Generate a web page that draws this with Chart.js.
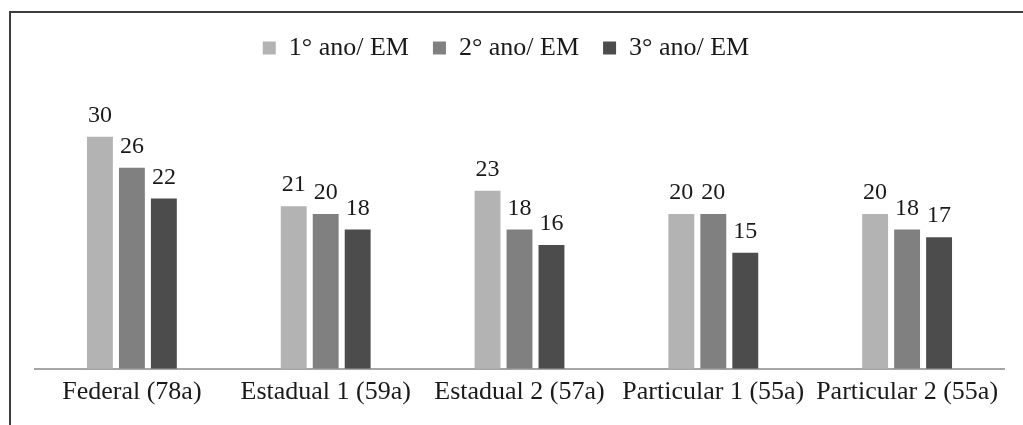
<!DOCTYPE html>
<html>
<head>
<meta charset="utf-8">
<script src="https://cdn.jsdelivr.net/npm/chart.js@4/dist/chart.umd.min.js"></script>
<style>
  html, body { margin: 0; padding: 0; background: #fff; overflow: hidden; }
  #wrap { position: relative; width: 1023px; height: 425px; }
</style>
</head>
<body>
<div id="wrap"><canvas id="c" width="1023" height="425"></canvas></div>
<script>
// Schools and number of students per grade
const categories = ['Federal (78a)', 'Estadual 1 (59a)', 'Estadual 2 (57a)', 'Particular 1 (55a)', 'Particular 2 (55a)'];
const seriesNames = ['1° ano/ EM', '2° ano/ EM', '3° ano/ EM'];
const ano1 = [30, 21, 23, 20, 20];
const ano2 = [26, 20, 18, 20, 18];
const ano3 = [22, 18, 16, 15, 17];
const barColors = ['#b3b3b3', '#808080', '#4c4c4c'];

const serif = "'Liberation Serif', 'Times New Roman', serif";
const textColor = '#1a1a1a';

// Frame lines along the top and left edge
const framePlugin = {
  id: 'frame',
  beforeDraw(chart) {
    const ctx = chart.ctx;
    ctx.save();
    ctx.fillStyle = '#fff';
    ctx.fillRect(0, 0, chart.width, chart.height);
    ctx.strokeStyle = '#3d3d3d';
    ctx.lineWidth = 2;
    ctx.beginPath();
    ctx.moveTo(10, chart.height);
    ctx.lineTo(10, 12);
    ctx.lineTo(chart.width, 12);
    ctx.stroke();
    ctx.restore();
  }
};

// Extra space between the legend and the plot area
const legendGap = {
  id: 'legendGap',
  beforeInit(chart) {
    const origFit = chart.legend.fit;
    chart.legend.fit = function () {
      origFit.call(this);
      this.height += 27;
    };
  }
};

// Value labels above each bar
const valueLabels = {
  id: 'valueLabels',
  afterDatasetsDraw(chart) {
    const ctx = chart.ctx;
    ctx.save();
    ctx.font = '24px ' + serif;
    ctx.fillStyle = textColor;
    ctx.textAlign = 'center';
    ctx.textBaseline = 'alphabetic';
    chart.data.datasets.forEach((ds, i) => {
      const meta = chart.getDatasetMeta(i);
      meta.data.forEach((bar, j) => {
        ctx.fillText(String(ds.data[j]), bar.x, bar.y - 15);
      });
    });
    ctx.restore();
  }
};

const datasets = [ano1, ano2, ano3].map((vals, i) => ({
  label: seriesNames[i],
  data: vals,
  backgroundColor: barColors[i],
  borderWidth: 0,
  barPercentage: 0.81,
  categoryPercentage: 0.495
}));

new Chart(document.getElementById('c'), {
  type: 'bar',
  data: { labels: categories, datasets },
  plugins: [framePlugin, legendGap, valueLabels],
  options: {
    responsive: false,
    animation: false,
    events: [],
    layout: { padding: { left: 8, right: 19, top: 11, bottom: 9 } },
    plugins: {
      tooltip: { enabled: false },
      legend: {
        position: 'top',
        labels: {
          font: { family: serif, size: 26 },
          color: textColor,
          boxWidth: 13,
          boxHeight: 13,
          padding: 24
        }
      }
    },
    scales: {
      x: {
        grid: { display: false, drawTicks: false },
        border: { display: true, color: '#a6a6a6', width: 2 },
        ticks: { font: { family: serif, size: 26 }, color: textColor, padding: 8, maxRotation: 0, autoSkip: false }
      },
      y: {
        display: true,
        min: 0,
        max: 35,
        grid: { display: false, drawTicks: false },
        border: { display: false },
        ticks: { display: false },
        afterFit(scale) { scale.width = 27; }
      }
    }
  }
});
</script>
</body>
</html>
